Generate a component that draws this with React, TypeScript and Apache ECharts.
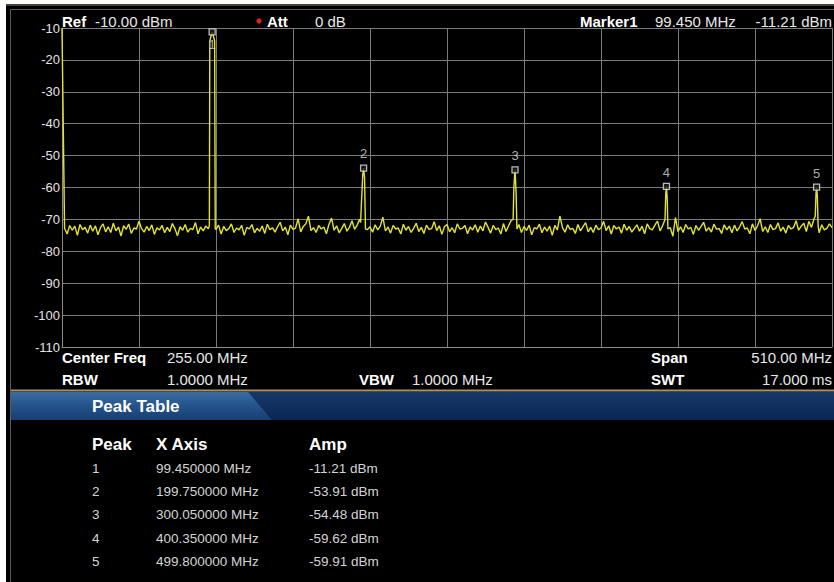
import React, { useEffect, useRef } from "react";
import * as echarts from "echarts";

// ---------- data ----------
const SPAN_START_MHZ = 0;
const SPAN_STOP_MHZ = 510;
const Y_MIN = -110;
const Y_MAX = -10;

// trace: 301 points evenly spread over 0..510 MHz (dBm)
const NOISE_DBM = [
  -10.0, -72.8, -74.6, -71.9, -73.4, -72.1, -75.0, -71.6, -73.2, -72.5, -74.3, -71.8, -73.7, -72.0, -74.8, -72.6, -71.4, -73.9, -72.3, -74.1,
  -71.2, -73.6, -72.4, -75.2, -72.0, -73.1, -71.5, -74.4, -72.7, -73.0, -70.6, -72.9, -74.0, -72.2, -73.5, -71.7, -74.7, -72.6, -73.3, -71.9,
  -74.2, -72.5, -73.8, -71.3, -72.9, -75.1, -72.3, -73.4, -71.6, -74.0, -72.8, -73.2, -71.0, -74.5, -72.4, -73.6, -72.1, -72.9, -74.3, -72.6,
  -73.1, -71.8, -74.6, -72.2, -73.5, -72.9, -71.4, -74.1, -72.7, -73.3, -71.9, -75.0, -72.5, -73.0, -71.6, -74.2, -72.8, -73.7, -72.1, -74.4,
  -71.5, -73.2, -72.6, -74.0, -72.3, -70.9, -73.6, -72.4, -74.8, -71.8, -73.1, -72.7, -69.8, -73.9, -72.2, -71.4, -69.0, -73.5, -72.6, -74.1,
  -71.9, -73.0, -72.4, -74.5, -71.6, -69.6, -73.4, -72.0, -74.2, -72.8, -71.3, -73.7, -72.5, -70.4, -73.1, -71.8, -69.9, -72.6, -71.5, -73.2,
  -72.3, -74.0, -71.7, -73.3, -72.1, -69.3, -73.6, -72.4, -74.3, -71.9, -73.0, -72.7, -74.6, -71.5, -73.4, -72.2, -74.1, -72.8, -71.2, -73.8,
  -72.5, -74.4, -71.8, -73.1, -72.9, -70.7, -73.5, -72.0, -74.7, -72.3, -71.6, -73.9, -72.6, -74.2, -71.4, -73.0, -72.8, -71.9, -74.5, -72.4,
  -73.3, -71.7, -74.0, -72.1, -73.6, -70.8, -72.5, -74.3, -71.9, -73.2, -72.7, -74.6, -71.3, -73.8, -72.0, -70.3, -72.9, -73.4, -71.6, -74.1,
  -72.2, -73.5, -71.8, -74.8, -72.6, -73.0, -71.5, -74.2, -72.4, -73.7, -72.1, -75.0, -71.9, -73.3, -69.0, -72.6, -74.0, -71.7, -73.1, -72.8,
  -74.4, -71.6, -73.6, -72.3, -71.0, -73.9, -72.5, -74.1, -71.8, -73.2, -72.7, -70.6, -73.5, -72.0, -74.6, -71.9, -73.0, -72.4, -74.3, -71.5,
  -73.4, -72.2, -74.0, -72.8, -71.7, -73.7, -72.1, -74.5, -71.4, -72.9, -73.3, -71.8, -70.5, -73.6, -72.0, -71.2, -74.2, -72.6, -75.3, -69.4,
  -73.8, -72.3, -74.1, -71.6, -73.0, -72.5, -74.7, -71.9, -73.4, -72.2, -70.9, -73.7, -72.6, -74.0, -71.5, -73.1, -72.8, -74.4, -71.7, -73.3,
  -72.1, -74.2, -71.8, -73.6, -72.4, -70.7, -73.0, -72.7, -74.5, -71.4, -73.5, -72.0, -69.8, -73.8, -72.3, -74.1, -71.6, -73.2, -72.9, -71.1,
  -73.7, -72.4, -74.3, -71.9, -73.0, -72.6, -70.4, -73.4, -72.1, -71.2, -73.8, -70.6, -72.5, -69.8, -72.0, -74.2, -71.7, -73.3, -72.8, -71.4, -72.6,
];

// shapes of the five signal peaks: [MHz, dBm]
const PEAK1_SHAPE = [[97.6, -72.0], [97.9, -14.0], [99.45, -11.21], [101.1, -14.0], [101.5, -73.0]];
const PEAK2_SHAPE = [[197.8, -71.0], [198.3, -65.0], [199.2, -56.0], [199.75, -53.91], [200.4, -57.0], [201.0, -73.0]];
const PEAK3_SHAPE = [[298.8, -70.0], [299.3, -60.0], [300.05, -54.48], [300.8, -62.0], [301.3, -73.0]];
const PEAK4_SHAPE = [[399.4, -70.0], [399.9, -62.0], [400.35, -59.62], [400.9, -64.0], [401.3, -73.0]];
const PEAK5_SHAPE = [[498.9, -69.0], [499.4, -62.0], [499.8, -59.91], [500.3, -63.0], [500.8, -72.0]];

// peak table
const PEAK_IDS = ["1", "2", "3", "4", "5"];
const PEAK_FREQ_MHZ = [99.45, 199.75, 300.05, 400.35, 499.8];
const PEAK_AMP_DBM = [-11.21, -53.91, -54.48, -59.62, -59.91];
const PEAK_X_LABELS = ["99.450000 MHz", "199.750000 MHz", "300.050000 MHz", "400.350000 MHz", "499.800000 MHz"];
const PEAK_AMP_LABELS = ["-11.21 dBm", "-53.91 dBm", "-54.48 dBm", "-59.62 dBm", "-59.91 dBm"];

// instrument settings texts
const REF_TEXT = "-10.00 dBm";
const ATT_TEXT = "0 dB";
const MARKER_FREQ_TEXT = "99.450 MHz";
const MARKER_AMP_TEXT = "-11.21 dBm";
const CENTER_TEXT = "255.00 MHz";
const SPAN_TEXT = "510.00 MHz";
const RBW_TEXT = "1.0000 MHz";
const VBW_TEXT = "1.0000 MHz";
const SWT_TEXT = "17.000 ms";

const FONT = "'Liberation Sans', Arial, sans-serif";

function buildTrace(): number[][] {
  const shapes = [PEAK1_SHAPE, PEAK2_SHAPE, PEAK3_SHAPE, PEAK4_SHAPE, PEAK5_SHAPE];
  const step = (SPAN_STOP_MHZ - SPAN_START_MHZ) / (NOISE_DBM.length - 1);
  const pts: number[][] = [];
  NOISE_DBM.forEach((v, i) => {
    const f = SPAN_START_MHZ + i * step;
    const inside = shapes.some((s) => f >= s[0][0] && f <= s[s.length - 1][0]);
    if (!inside) pts.push([f, v]);
  });
  shapes.forEach((s) => s.forEach((p) => pts.push([p[0], p[1]])));
  pts.sort((a, b) => a[0] - b[0]);
  return pts;
}

function txt(text: string, x: number, y: number, opts: any = {}) {
  return {
    type: "text",
    x,
    y,
    silent: true,
    z: 5,
    style: {
      text,
      fill: opts.fill || "#e8e8e8",
      fontSize: opts.size || 15,
      fontFamily: FONT,
      fontWeight: opts.bold ? "bold" : "normal",
      align: opts.align || "left",
      verticalAlign: "middle",
    },
  };
}

export default function App() {
  const ref = useRef<HTMLDivElement>(null);

  useEffect(() => {
    if (!ref.current) return;
    const chart = echarts.init(ref.current, undefined, { renderer: "svg" });

    const trace = buildTrace();
    const markers = PEAK_IDS.map((id, i) => ({
      name: id,
      value: [PEAK_FREQ_MHZ[i], PEAK_AMP_DBM[i]],
      label: { position: i === 0 ? "bottom" : "top", distance: i === 0 ? 2 : 4 },
    }));

    const graphic: any[] = [
      // panel background
      { type: "rect", z: -10, silent: true, shape: { x: 6, y: 4, width: 828, height: 578 }, style: { fill: "#000000" } },
      { type: "rect", z: -9, silent: true, shape: { x: 6, y: 4, width: 828, height: 2 }, style: { fill: "#4a4236" } },
      { type: "rect", z: -8, silent: true, shape: { x: 10.5, y: 9.5, width: 830, height: 580 }, style: { fill: "none", stroke: "#5c5c5c", lineWidth: 1 } },
      // gold separator
      { type: "rect", z: -7, silent: true, shape: { x: 11, y: 389.5, width: 823, height: 2 }, style: { fill: "#a6936a" } },
      // peak table header band
      {
        type: "rect", z: -7, silent: true,
        shape: { x: 11, y: 392, width: 823, height: 28 },
        style: {
          fill: new echarts.graphic.LinearGradient(0, 0, 0, 1, [
            { offset: 0, color: "#17396a" },
            { offset: 1, color: "#0a2552" },
          ]),
        },
      },
      {
        type: "polygon", z: -6, silent: true,
        shape: { points: [[11, 392], [248, 392], [272, 420], [11, 420]] },
        style: {
          fill: new echarts.graphic.LinearGradient(0, 0, 0, 1, [
            { offset: 0, color: "#3a6ca4" },
            { offset: 0.5, color: "#24538a" },
            { offset: 1, color: "#173f72" },
          ]),
        },
      },
      // header line
      txt("Ref", 62, 21, { bold: true, fill: "#ffffff" }),
      txt(REF_TEXT, 95, 21),
      { type: "circle", z: 5, silent: true, shape: { cx: 259, cy: 21, r: 2.6 }, style: { fill: "#e02020" } },
      txt("Att", 267, 21, { bold: true, fill: "#ffffff" }),
      txt(ATT_TEXT, 315, 21),
      txt("Marker1", 580, 21, { bold: true, fill: "#ffffff" }),
      txt(MARKER_FREQ_TEXT, 655, 21),
      txt(MARKER_AMP_TEXT, 832, 21, { align: "right" }),
      // footer lines
      txt("Center Freq", 62, 357, { bold: true, fill: "#ffffff" }),
      txt(CENTER_TEXT, 167, 357),
      txt("Span", 651, 357, { bold: true, fill: "#ffffff" }),
      txt(SPAN_TEXT, 832, 357, { align: "right" }),
      txt("RBW", 62, 379, { bold: true, fill: "#ffffff" }),
      txt(RBW_TEXT, 167, 379),
      txt("VBW", 359, 379, { bold: true, fill: "#ffffff" }),
      txt(VBW_TEXT, 412, 379),
      txt("SWT", 651, 379, { bold: true, fill: "#ffffff" }),
      txt(SWT_TEXT, 832, 379, { align: "right" }),
      // peak table
      txt("Peak Table", 92, 406, { bold: true, size: 17, fill: "#ffffff" }),
      txt("Peak", 92, 444, { bold: true, size: 17, fill: "#ffffff" }),
      txt("X Axis", 156, 444, { bold: true, size: 17, fill: "#ffffff" }),
      txt("Amp", 309, 444, { bold: true, size: 17, fill: "#ffffff" }),
    ];
    PEAK_IDS.forEach((id, i) => {
      const y = 468 + i * 23.4;
      graphic.push(txt(id, 92, y, { size: 13.5, fill: "#d4d4d4" }));
      graphic.push(txt(PEAK_X_LABELS[i], 156, y, { size: 13.5, fill: "#d4d4d4" }));
      graphic.push(txt(PEAK_AMP_LABELS[i], 309, y, { size: 13.5, fill: "#d4d4d4" }));
    });

    chart.setOption({
      animation: false,
      backgroundColor: "#ffffff",
      textStyle: { fontFamily: FONT },
      graphic,
      grid: { left: 62, top: 28, width: 770, height: 319, containLabel: false, show: false },
      xAxis: {
        type: "value",
        min: SPAN_START_MHZ,
        max: SPAN_STOP_MHZ,
        interval: 51,
        axisLabel: { show: false },
        axisTick: { show: false },
        axisLine: { show: true, lineStyle: { color: "#8a8a8a", width: 1 } },
        splitLine: { show: true, lineStyle: { color: "#7c7c7c", width: 1 } },
      },
      yAxis: {
        type: "value",
        min: Y_MIN,
        max: Y_MAX,
        interval: 10,
        axisLabel: { show: true, color: "#e4e4e4", fontSize: 13, margin: 2, fontFamily: FONT },
        axisTick: { show: false },
        axisLine: { show: true, lineStyle: { color: "#8a8a8a", width: 1 } },
        splitLine: { show: true, lineStyle: { color: "#7c7c7c", width: 1 } },
      },
      series: [
        {
          type: "line",
          data: trace,
          showSymbol: false,
          symbol: "none",
          lineStyle: { color: "#e4e42c", width: 1.4 },
          z: 3,
        },
        {
          type: "scatter",
          data: markers,
          symbol: "rect",
          symbolSize: 6,
          itemStyle: { color: "#1a1a1a", borderColor: "#e6e6e6", borderWidth: 1.3 },
          label: {
            show: true,
            formatter: (p: any) => p.name,
            color: "#dcdcdc",
            fontSize: 13,
            fontFamily: FONT,
          },
          z: 4,
        },
      ],
    });

    return () => {
      chart.dispose();
    };
  }, []);

  return (
    <div
      ref={ref}
      style={{ position: "absolute", left: 0, top: 0, width: 834, height: 582 }}
    />
  );
}
